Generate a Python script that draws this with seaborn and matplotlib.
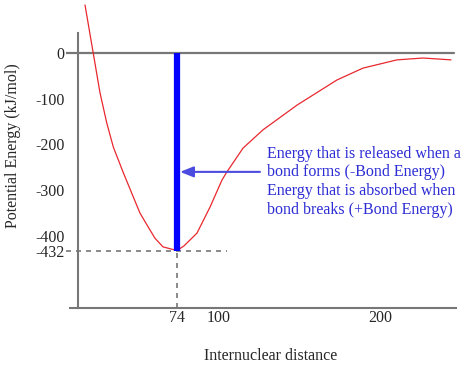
import matplotlib
matplotlib.use("Agg")
import matplotlib.pyplot as plt
import pandas as pd
import seaborn as sns

# potential energy curve, x in pm, y in kJ/mol
distance = [16.9, 22.0, 26.2, 30.4, 34.5, 40.7, 46.9, 51.0, 56.2, 60.3, 65.3, 70.7, 74.0,
            78.3, 86.4, 94.5, 101.9, 105.0, 115.0, 127.4, 148.5, 173.3, 189.5, 210.6, 226.7, 244.1]
energy = [105, 0, -87, -153, -206, -262, -315, -350, -381, -405, -424, -429, -432,
          -422, -394, -337, -278, -260, -208, -168, -114, -59, -33, -15, -11, -15]

bond_length = 74
bond_energy = -432
x_ticks = [74, 100, 200]
y_ticks = [0, -100, -200, -300, -400, -432]
note_lines = ["Energy that is released when a",
              "bond forms (-Bond Energy)",
              "Energy that is absorbed when",
              "bond breaks (+Bond Energy)"]

df = pd.DataFrame({"distance": distance, "energy": energy})

sns.set_style("white")
plt.rcParams["font.family"] = ["Liberation Serif", "DejaVu Serif"]
fs = 11.5

gray = "#777777"
fig = plt.figure(figsize=(4.66, 3.71), dpi=100)
ax = fig.add_axes([66 / 466, 63 / 371, 400 / 466, 308 / 371])
ax.set_xlim(5.1, 253.4)
ax.set_ylim(-557.7, 115.9)

# axes drawn like the hand-made diagram
for s in ["top", "right"]:
    ax.spines[s].set_visible(False)
ax.spines["left"].set_position(("data", 12.5))
ax.spines["left"].set_bounds(-557.7, 43.7)
ax.spines["bottom"].set_bounds(7.6, 247.2)
for s in ["left", "bottom"]:
    ax.spines[s].set_color(gray)
    ax.spines[s].set_linewidth(1.5)

ax.axhline(0, xmin=0, xmax=0.97, color=gray, lw=1.6, zorder=1)

# dashed guides to the minimum
ax.hlines(bond_energy, 5.1, 105, color=gray, lw=1.2, linestyles=(0, (3, 3)), zorder=1)
ax.vlines(bond_length, -557.7, bond_energy, color=gray, lw=1.2, linestyles=(0, (3, 3)), zorder=1)

sns.lineplot(data=df, x="distance", y="energy", ax=ax, color="#e8282e", lw=0.9,
             sort=False, estimator=None, zorder=3)

# bond energy bar
ax.vlines(bond_length, bond_energy, 0, color="#0000ff", lw=4.5, zorder=4)

ax.annotate("", xy=(bond_length + 1.9, -260), xytext=(125.5, -260),
            arrowprops=dict(arrowstyle="-|>,head_length=0.8,head_width=0.32",
                            color="#4b4be0", lw=1.5, mutation_scale=10,
                            shrinkA=0, shrinkB=0), zorder=5)
ax.text(129.9, -203, "\n".join(note_lines), color="#2d2dd4", fontsize=fs,
        va="top", ha="left", linespacing=1.22)

ax.set_xticks(x_ticks)
ax.set_xticklabels([str(v) for v in x_ticks])
ax.set_yticks(y_ticks)
ax.set_yticklabels([str(v) for v in y_ticks])
ax.tick_params(axis="y", direction="inout", length=10.8, width=1.1, color=gray, pad=4, labelsize=fs)
ax.tick_params(axis="x", direction="inout", length=7.2, width=1.1, color=gray, pad=-2, labelsize=fs)

ax.set_xlabel("Internuclear distance", fontsize=fs)
ax.set_ylabel("Potential Energy (kJ/mol)", fontsize=fs)
ax.xaxis.set_label_coords(0.5125, -0.13)
ax.yaxis.set_label_coords(-0.1125, 0.526)

fig.savefig("out.png", dpi=100)
